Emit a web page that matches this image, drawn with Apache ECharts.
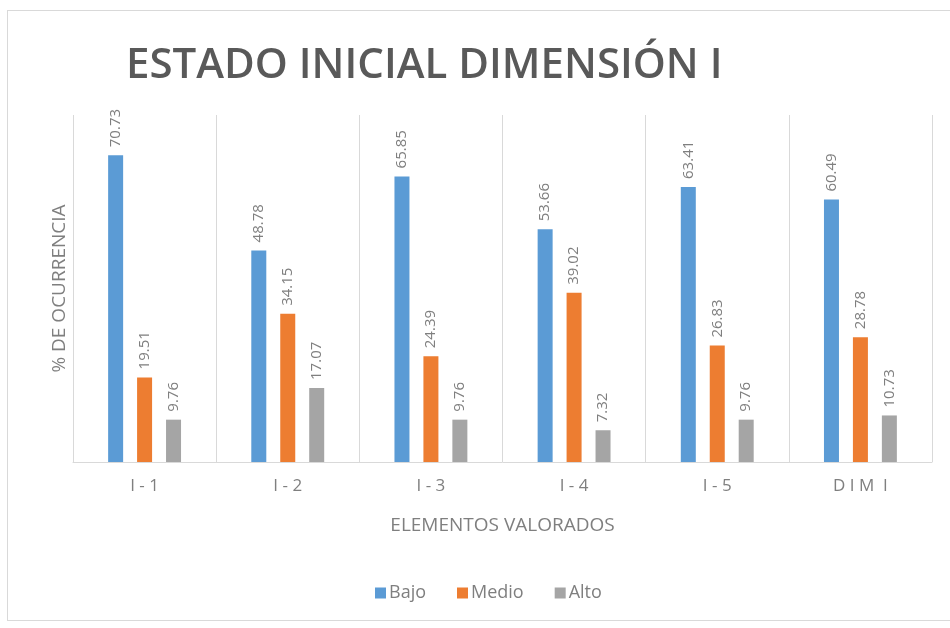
<!DOCTYPE html>
<html><head><meta charset="utf-8">
<script src="https://cdn.jsdelivr.net/npm/echarts@6/dist/echarts.min.js"></script>
<style>
html,body{margin:0;padding:0;background:#fff;}
#frame{position:absolute;left:7px;top:10px;width:960px;height:611px;border:1px solid #d9d9d9;box-sizing:border-box;}
#main{position:absolute;left:0;top:0;width:950px;height:628px;}
</style></head>
<body>
<div id="frame"></div>
<div id="main"></div>
<script>
const categories = ['I - 1', 'I - 2', 'I - 3', 'I - 4', 'I - 5', 'D I M  I'];
const bajo = [70.73, 48.78, 65.85, 53.66, 63.41, 60.49];
const medio = [19.51, 34.15, 24.39, 39.02, 26.83, 28.78];
const alto = [9.76, 17.07, 9.76, 7.32, 9.76, 10.73];
const seriesNames = ['Bajo', 'Medio', 'Alto'];
const colors = ['#5b9bd5', '#ed7d31', '#a5a5a5'];

const chart = echarts.init(document.getElementById('main'), null, {renderer: 'canvas'});
const labelCfg = {
  show: true, position: 'top', rotate: 90, align: 'left', verticalAlign: 'middle',
  distance: 8, color: '#7f7f7f', fontSize: 15, fontFamily: 'Open Sans',
  formatter: p => p.value.toFixed(2)
};
const mk = (name, data, color) => ({
  name, type: 'bar', data, barWidth: 15, barGap: '93%',
  itemStyle: {color}, label: labelCfg
});
chart.setOption({
  animation: false,
  color: colors,
  title: {
    text: 'ESTADO INICIAL DIMENSIÓN I', left: 121, top: 40,
    textStyle: {fontFamily: 'Open Sans', fontSize: 42, fontWeight: 600, color: '#595959'}
  },
  legend: {
    bottom: 21, left: 370, itemWidth: 11, itemHeight: 11, itemGap: 31,
    icon: 'rect',
    textStyle: {fontFamily: 'Open Sans', fontSize: 18, color: '#7f7f7f', padding: [0, 0, 0, -2]},
    data: seriesNames
  },
  grid: {left: 73, right: 18, top: 115, bottom: 166},
  xAxis: {
    type: 'category', data: categories,
    name: 'ELEMENTOS VALORADOS', nameLocation: 'middle', nameGap: 54,
    nameTextStyle: {fontFamily: 'Open Sans', fontSize: 19, color: '#7f7f7f'},
    axisLine: {lineStyle: {color: '#d9d9d9'}},
    axisTick: {show: false},
    splitLine: {show: true, lineStyle: {color: '#d9d9d9'}},
    axisLabel: {fontFamily: 'Open Sans', fontSize: 17, color: '#7f7f7f', margin: 16}
  },
  yAxis: {
    type: 'value', min: 0, max: 80,
    name: '% DE OCURRENCIA', nameLocation: 'middle', nameGap: 4,
    nameTextStyle: {fontFamily: 'Open Sans', fontSize: 19, color: '#7f7f7f'},
    axisLine: {show: false}, axisTick: {show: false}, axisLabel: {show: false},
    splitLine: {show: false}
  },
  series: [mk(seriesNames[0], bajo, colors[0]), mk(seriesNames[1], medio, colors[1]), mk(seriesNames[2], alto, colors[2])]
});
</script>
</body></html>
